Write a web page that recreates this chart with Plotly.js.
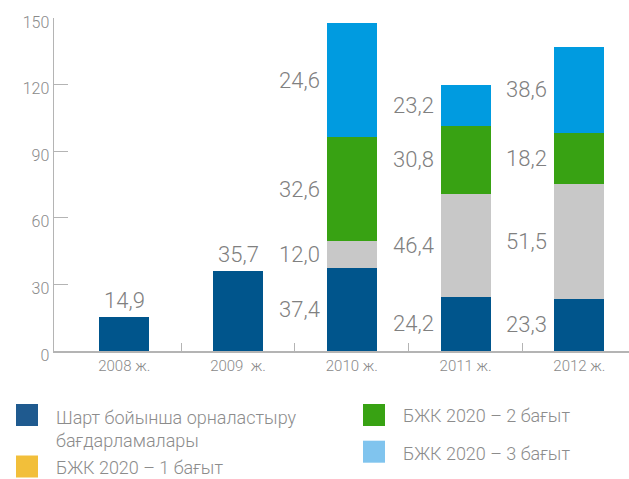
<!DOCTYPE html>
<html>
<head>
<meta charset="utf-8">
<script src="https://cdn.plot.ly/plotly-3.0.1.min.js"></script>
<style>html,body{margin:0;padding:0;background:#fff;}#chart{width:629px;height:479px;}</style>
</head>
<body>
<div id="chart"></div>
<script>
// Categories
var years = ['2008 ж.', '2009  ж.', '2010 ж.', '2011 ж.', '2012 ж.'];
// Bar heights as drawn in the picture
var contract = [15.3, 36.1, 37.4, 24.4, 23.5];
var dir1 = [null, null, 12.2, 46.4, 51.9];
var dir2 = [null, null, 46.7, 30.7, 22.9];
var dir3 = [null, null, 51.3, 18.5, 38.6];
// Labels printed on the picture
var contractText = ['14,9', '35,7', '37,4', '24,2', '23,3'];
var dir1Text = ['', '', '12,0', '46,4', '51,5'];
var dir2Text = ['', '', '32,6', '30,8', '18,2'];
var dir3Text = ['', '', '24,6', '23,2', '38,6'];
// Legend
var seriesNames = ['Шарт бойынша орналастыру<br>бағдарламалары', 'БЖК 2020 – 1 бағыт', 'БЖК 2020 – 2 бағыт', 'БЖК 2020 – 3 бағыт'];
var barColors = ['#00558c', '#c8c8c8', '#38a213', '#009be0'];
var legendColors = ['#1f5a8f', '#f2bf3a', '#38a213', '#80c4ee'];
var yTicks = [0, 30, 60, 90, 120, 150];

var NUMF = 'Roboto, "Liberation Sans", sans-serif';
var LIGHT = 'Roboto, "Liberation Sans", sans-serif';
var GREY = '#8a8a8a';

var series = [contract, dir1, dir2, dir3];
var texts = [contractText, dir1Text, dir2Text, dir3Text];

var traces = series.map(function (vals, k) {
  return {
    type: 'bar', x: years, y: vals, name: seriesNames[k],
    marker: {color: barColors[k], line: {width: 0}},
    width: 0.44, hoverinfo: 'none', showlegend: false
  };
});
// dummy trace for the tick axis
traces.push({type: 'scatter', x: [0], y: [0], xaxis: 'x2', mode: 'markers', marker: {opacity: 0}, hoverinfo: 'none', showlegend: false});

var valueFont = {family: NUMF, size: 22, color: '#808080', weight: 300};
var annotations = [];
years.forEach(function (yr, i) {
  var stacked = (dir1[i] !== null);
  if (!stacked) {
    annotations.push({x: i, y: contract[i], xref: 'x', yref: 'y', text: contractText[i],
      showarrow: false, xanchor: 'center', yanchor: 'bottom', yshift: 2, font: valueFont});
  } else {
    var base = 0;
    for (var k = 0; k < 4; k++) {
      var v = series[k][i];
      annotations.push({x: i, y: base + v / 2, xref: 'x', yref: 'y', text: texts[k][i],
        showarrow: false, xanchor: 'right', yanchor: 'middle', xshift: -30, font: valueFont});
      base += v;
    }
  }
});

// legend built from shapes + annotations (pixel -> paper)
var L = 54, W = 575, B = 351, H = 333;
function px(x) { return (x - L) / W; }
function py(y) { return (B - y) / H; }
var legendPos = [[16, 415], [16, 466.5], [363, 415], [363, 451.7]];
var textPos = [[55, 428.5], [55, 467.5], [401.5, 415.7], [401.5, 453.3]];
var shapes = [];
legendPos.forEach(function (p, k) {
  shapes.push({type: 'rect', xref: 'paper', yref: 'paper',
    x0: px(p[0]), x1: px(p[0] + 22), y0: py(p[1] + 11), y1: py(p[1] - 11),
    fillcolor: legendColors[k], line: {width: 0}});
  annotations.push({xref: 'paper', yref: 'paper', x: px(textPos[k][0]), y: py(textPos[k][1]),
    text: seriesNames[k], showarrow: false, xanchor: 'left', yanchor: 'middle', align: 'left',
    borderpad: 0, font: {family: LIGHT, size: 18, color: '#8c8c8c', weight: 300}});
});

var layout = {
  width: 629, height: 479,
  margin: {l: 54, r: 0, t: 18, b: 128, pad: 0},
  paper_bgcolor: '#ffffff', plot_bgcolor: '#ffffff',
  barmode: 'stack',
  showlegend: false,
  xaxis: {type: 'category', range: [-0.617, 4.436], showline: true, linecolor: '#b4b4b4', linewidth: 1.5,
    ticks: '', showgrid: false, zeroline: false, fixedrange: true,
    tickfont: {family: NUMF, size: 15, color: GREY, weight: 300}},
  xaxis2: {overlaying: 'x', range: [-0.617, 4.436], tickvals: [0.5, 1.5, 2.5, 3.5], ticks: 'inside',
    ticklen: 8, tickcolor: '#b4b4b4', tickwidth: 1.2, showticklabels: false, showgrid: false, zeroline: false,
    showline: false, side: 'bottom'},
  yaxis: {range: [0, 150], tickvals: yTicks, ticks: 'inside', ticklen: 14, tickcolor: '#b4b4b4', tickwidth: 1.2,
    showline: true, linecolor: '#b4b4b4', linewidth: 1.5, showgrid: false, zeroline: false,
    ticklabelshift: 4,
    tickfont: {family: NUMF, size: 16, color: GREY, weight: 300}, fixedrange: true},
  shapes: shapes,
  annotations: annotations
};

Plotly.newPlot('chart', traces, layout, {displayModeBar: false, staticPlot: true});
</script>
</body>
</html>
